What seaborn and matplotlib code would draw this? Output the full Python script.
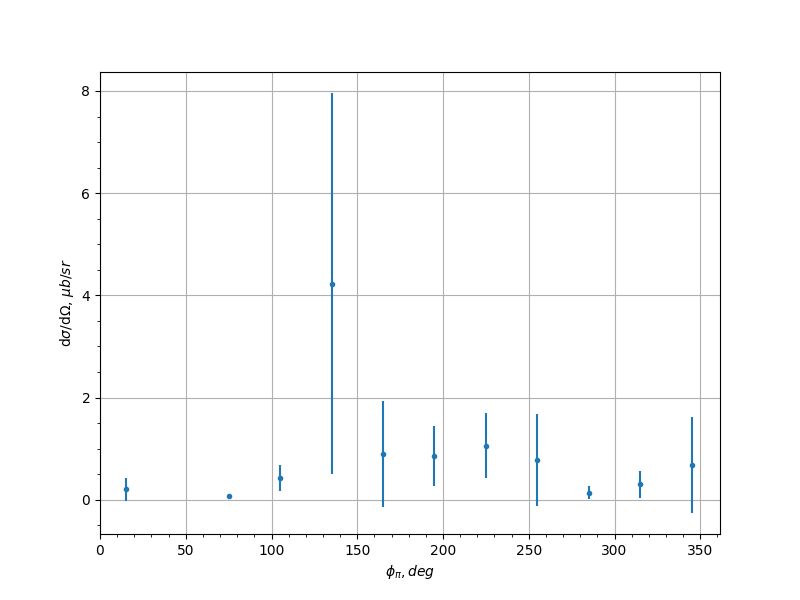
import numpy as np
import matplotlib
matplotlib.use("Agg")
import matplotlib.pyplot as plt
import seaborn as sns

# angle bins (deg) and cross section with errors
phi = [15, 75, 105, 135, 165, 195, 225, 255, 285, 315, 345]
xsec = [0.20, 0.07, 0.43, 4.23, 0.90, 0.85, 1.06, 0.78, 0.14, 0.30, 0.68]
err = [0.23, 0.04, 0.25, 3.73, 1.04, 0.59, 0.64, 0.90, 0.13, 0.27, 0.94]

color = sns.color_palette("tab10")[0]

fig, ax = plt.subplots(figsize=(8, 6), dpi=100)
ax.errorbar(phi, xsec, yerr=err, fmt='.', color=color)
ax.set_xlim(left=0)
ax.minorticks_on()
ax.grid(True, which='major')
ax.set_xlabel(r'$\phi_{\pi}, deg$')
ax.set_ylabel(r'd$\sigma$/d$\Omega$, $\mu b/sr$')

plt.savefig('out.png', dpi=100)
